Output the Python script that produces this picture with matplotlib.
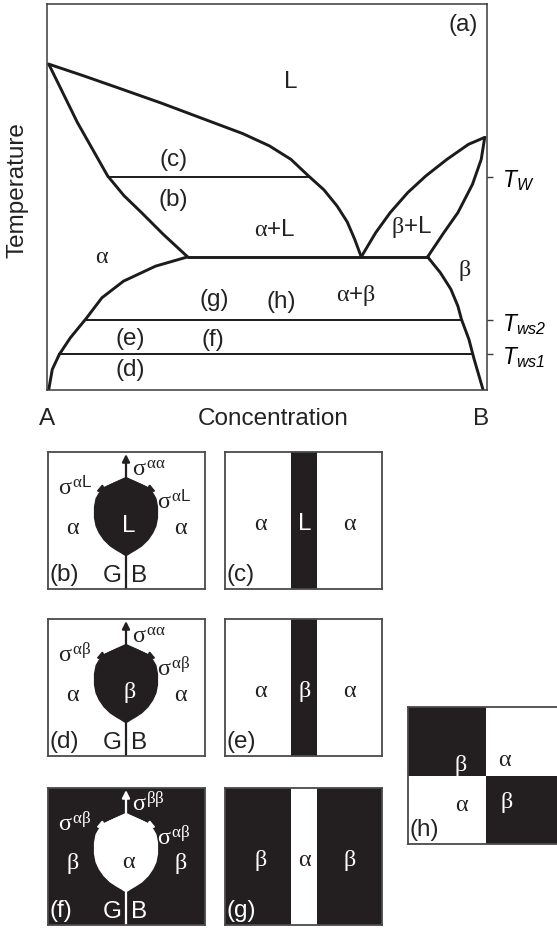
import matplotlib
matplotlib.use('Agg')
import matplotlib.pyplot as plt
from matplotlib.patches import Polygon, Rectangle

plt.rcParams['font.family'] = ['Liberation Sans', 'DejaVu Sans']
plt.rcParams['mathtext.fontset'] = 'custom'
plt.rcParams['mathtext.rm'] = 'Liberation Sans'
plt.rcParams['mathtext.it'] = 'Liberation Serif'
plt.rcParams['mathtext.sf'] = 'Liberation Sans:italic'
plt.rcParams['mathtext.bf'] = 'Liberation Sans'

# ---------------- phase diagram data (concentration %, temperature %) -------------
liq_a_x = [0.4, 8.0, 15.8, 26.0, 37.7, 44.5, 50.6, 55.5, 59.5, 63.0, 66.0, 68.3, 70.0, 71.5]
liq_a_T = [84.4, 81.5, 78.4, 74.3, 69.3, 66.4, 63.2, 59.7, 55.4, 51.8, 47.6, 43.5, 39.0, 34.4]
sol_a_x = [0.4, 6.9, 13.8, 17.5, 21.5, 26.5, 32.0]
sol_a_T = [84.4, 69.3, 55.4, 50.3, 45.9, 40.2, 34.4]
solv_a_x = [32.0, 24.7, 17.4, 12.5, 8.9, 5.3, 2.8, 1.2, 0.4]
solv_a_T = [34.4, 32.0, 28.1, 23.8, 18.4, 13.4, 9.1, 5.2, 0.0]
liq_b_x = [71.5, 74.8, 78.1, 82.1, 86.2, 91.0, 95.9, 99.6]
liq_b_T = [34.4, 40.7, 45.9, 51.1, 55.4, 59.7, 63.6, 65.4]
sol_b_x = [99.6, 98.8, 96.8, 93.5, 90.3, 86.6]
sol_b_T = [65.4, 59.7, 53.2, 45.9, 40.7, 34.4]
solv_b_x = [86.6, 89.5, 91.9, 93.5, 94.3, 96.0, 97.2, 99.2]
solv_b_T = [34.4, 30.3, 26.0, 21.6, 18.2, 13.0, 7.8, 0.0]
eutectic_x = [32.0, 86.6]
eutectic_T = 34.4

iso_T = [55.2, 18.0, 9.2]                 # T_W, T_ws2, T_ws1
iso_x0 = [13.8, 8.6, 2.8]
iso_x1 = [59.5, 93.9, 96.6]
iso_labels = [r'$\mathsf{T_{W}}$', r'$\mathsf{T_{ws2}}$', r'$\mathsf{T_{ws1}}$']

region_labels = ['(a)', 'L', '(c)', '(b)', r'$α$+L', r'$β$+L', r'$α$', r'$β$',
                 '(g)', '(h)', r'$α$+$β$', '(e)', '(f)', '(d)']
region_x = [94.7, 55.5, 28.7, 28.7, 51.8, 83.0, 12.6, 95.1, 38.1, 53.4, 70.4, 19.0, 37.7, 19.0]
region_T = [94.8, 80.1, 59.7, 49.4, 41.6, 42.4, 34.6, 31.2, 23.4, 22.9, 24.7, 13.4, 13.0, 5.2]

# ---------------- microstructure sketch data (panel fractions) ---------------------
drop_u_left = [0.50, 0.45, 0.40, 0.36, 0.33, 0.31, 0.30, 0.30, 0.31, 0.33, 0.36, 0.40, 0.44, 0.47, 0.49, 0.50]
drop_v_left = [0.805, 0.785, 0.76, 0.735, 0.70, 0.66, 0.60, 0.52, 0.46, 0.41, 0.36, 0.315, 0.285, 0.265, 0.25, 0.245]
stripe_u = [0.425, 0.59]

W, H = 557, 929
fig = plt.figure(figsize=(W / 100, H / 100), dpi=100)
INK = '#1c1a1b'
FILL = '#231f20'
FS = 17.5


def px_axes(x0, y0, x1, y1):
    return fig.add_axes([x0 / W, 1 - y1 / H, (x1 - x0) / W, (y1 - y0) / H])


# ---------------- main phase diagram ----------------
ax = px_axes(47, 5, 486.5, 390.5)
ax.set_xlim(0, 100)
ax.set_ylim(0, 100)
for s in ax.spines.values():
    s.set_color('#3a3a3a')
    s.set_linewidth(1.1)

curve_kw = dict(color=INK, lw=2.1, solid_capstyle='round', solid_joinstyle='round')
for xs, ts in [(liq_a_x, liq_a_T), (sol_a_x, sol_a_T), (solv_a_x, solv_a_T),
               (liq_b_x, liq_b_T), (sol_b_x, sol_b_T), (solv_b_x, solv_b_T)]:
    ax.plot(xs, ts, **curve_kw)
ax.plot(eutectic_x, [eutectic_T, eutectic_T], **curve_kw)
for t, a, b in zip(iso_T, iso_x0, iso_x1):
    ax.plot([a, b], [t, t], color=INK, lw=1.4)

ax.set_xticks([])
ax.yaxis.tick_right()
ax.set_yticks(iso_T)
ax.set_yticklabels(iso_labels, fontsize=16.5)
ax.tick_params(axis='y', length=4.5, width=1.0, color='#3a3a3a', pad=7)

for lab, x, t in zip(region_labels, region_x, region_T):
    ax.text(x, t, lab, fontsize=FS, ha='center', va='center', color='#222222')

ax.text(0.0, -9.0, 'A', fontsize=FS, ha='center', va='baseline', color='#222222')
ax.text(98.8, -9.0, 'B', fontsize=FS, ha='center', va='baseline', color='#222222')
ax.text(51.4, -9.0, 'Concentration', fontsize=FS, ha='center', va='baseline', color='#222222')
ax.text(-6.8, 52.1, 'Temperature', fontsize=FS, ha='center', va='center', rotation=90,
        color='#222222')


# ---------------- microstructure panels ----------------
def panel(x0, y0, bg='white'):
    p = px_axes(x0, y0, x0 + 157, y0 + 137)
    p.set_xlim(0, 1)
    p.set_ylim(0, 1)
    p.set_xticks([])
    p.set_yticks([])
    p.set_facecolor(bg)
    for s in p.spines.values():
        s.set_color('#4a4a4a')
        s.set_linewidth(1.3)
    return p


def drop_panel(p, fg, txt_col, inner, s_top, s_side, label, outside):
    us = drop_u_left + [1 - u for u in drop_u_left[::-1]]
    vs = drop_v_left + drop_v_left[::-1]
    p.add_patch(Polygon(list(zip(us, vs)), closed=True, facecolor=fg, edgecolor=fg, lw=1))
    p.plot([0.5, 0.5], [0, drop_v_left[-1]], color=fg, lw=1.6)
    top = (0.5, drop_v_left[0] - 0.01)
    p.annotate('', xy=(0.5, 0.985), xytext=top,
               arrowprops=dict(arrowstyle='-|>', color=fg, lw=1.6, mutation_scale=11,
                               shrinkA=0, shrinkB=0))
    for ex in (0.31, 0.69):
        p.annotate('', xy=(ex, 0.71), xytext=(0.5, drop_v_left[0] + 0.005),
                   arrowprops=dict(arrowstyle='-|>', color=fg, lw=1.6, mutation_scale=10,
                                   shrinkA=0, shrinkB=0))
    p.text(0.54, 0.835, s_top, fontsize=FS, ha='left', va='baseline', color=txt_col)
    p.text(0.07, 0.695, s_side, fontsize=FS, ha='left', va='baseline', color=txt_col)
    p.text(0.70, 0.59, s_side, fontsize=FS, ha='left', va='baseline', color=txt_col)
    p.text(0.16, 0.455, outside, fontsize=FS, ha='center', va='center', color=txt_col)
    p.text(0.85, 0.455, outside, fontsize=FS, ha='center', va='center', color=txt_col)
    p.text(0.52, 0.47, inner, fontsize=FS, ha='center', va='center',
           color='white' if fg != 'white' else FILL)
    p.text(0.015, 0.11, label, fontsize=FS, ha='left', va='center', color=txt_col)
    p.text(0.475, 0.10, 'G', fontsize=FS, ha='right', va='center', color=txt_col)
    p.text(0.535, 0.10, 'B', fontsize=FS, ha='left', va='center', color=txt_col)


def stripe_panel(p, stripe_col, txt_out, txt_in, outside, inner, label):
    p.add_patch(Rectangle((stripe_u[0], 0), stripe_u[1] - stripe_u[0], 1,
                          facecolor=stripe_col, edgecolor='none'))
    p.text(0.23, 0.48, outside, fontsize=FS, ha='center', va='center', color=txt_out)
    p.text(0.80, 0.48, outside, fontsize=FS, ha='center', va='center', color=txt_out)
    p.text(0.51, 0.48, inner, fontsize=FS, ha='center', va='center', color=txt_in)
    p.text(0.015, 0.11, label, fontsize=FS, ha='left', va='center', color=txt_out)


pb = panel(47.5, 453)
drop_panel(pb, FILL, '#222222', 'L', r'$σ^{αα}$', r'$σ^{α\mathrm{L}}$', '(b)', r'$α$')
pc = panel(224.5, 453)
stripe_panel(pc, FILL, '#222222', 'white', r'$α$', 'L', '(c)')

pd = panel(47.5, 620)
drop_panel(pd, FILL, '#222222', r'$β$', r'$σ^{αα}$', r'$σ^{αβ}$', '(d)', r'$α$')
pe = panel(224.5, 620)
stripe_panel(pe, FILL, '#222222', 'white', r'$α$', r'$β$', '(e)')

pf = panel(47.5, 789, bg=FILL)
drop_panel(pf, 'white', 'white', r'$α$', r'$σ^{ββ}$', r'$σ^{αβ}$', '(f)', r'$β$')
pg = panel(224.5, 789, bg=FILL)
stripe_panel(pg, 'white', 'white', FILL, r'$β$', r'$α$', '(g)')

ph = panel(407.5, 708)
ph.add_patch(Rectangle((0, 0.5), 0.5, 0.5, facecolor=FILL, edgecolor='none'))
ph.add_patch(Rectangle((0.5, 0), 0.5, 0.5, facecolor=FILL, edgecolor='none'))
ph.text(0.34, 0.58, r'$β$', fontsize=FS, ha='center', va='center', color='white')
ph.text(0.62, 0.62, r'$α$', fontsize=FS, ha='center', va='center', color='#222222')
ph.text(0.35, 0.29, r'$α$', fontsize=FS, ha='center', va='center', color='#222222')
ph.text(0.63, 0.31, r'$β$', fontsize=FS, ha='center', va='center', color='white')
ph.text(0.015, 0.11, '(h)', fontsize=FS, ha='left', va='center', color='#222222')

fig.savefig('out.png', dpi=100)
